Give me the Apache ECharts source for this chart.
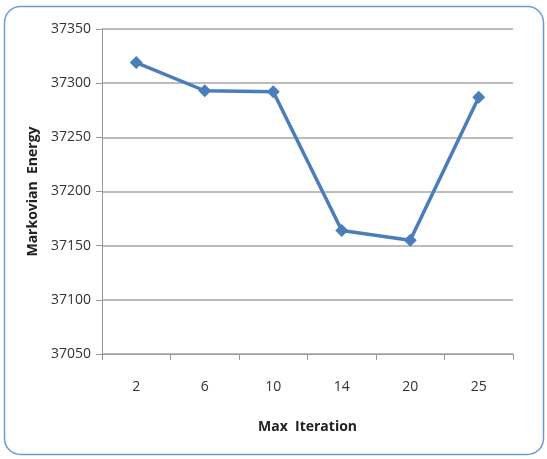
<!DOCTYPE html>
<html><head><meta charset="utf-8">
<script src="https://cdn.jsdelivr.net/npm/echarts@6/dist/echarts.min.js"></script>
<style>html,body{margin:0;padding:0;background:#fff}#c{width:547px;height:459px}</style>
</head><body><div id="c"></div>
<script>
const categories = ['2','6','10','14','20','25'];
const energy = [37319, 37293, 37292, 37164, 37155, 37287];
const yMin = 37050, yMax = 37350, yStep = 50;
const xTitle = 'Max  Iteration';
const yTitle = 'Markovian  Energy';

const font = '"Liberation Sans Narrow", "Open Sans", sans-serif';
const chart = echarts.init(document.getElementById('c'), null, {renderer:'canvas'});
chart.setOption({
  animation:false,
  backgroundColor:'#fff',
  graphic:[{type:'rect', shape:{x:4.5,y:6.5,width:539,height:448,r:16}, style:{fill:'none', stroke:'#6f9bd3', lineWidth:1.5}, z:-1}],
  grid:{left:102, right:34, top:29, bottom:105},
  xAxis:{type:'category', data:categories, boundaryGap:true,
    name:xTitle, nameLocation:'middle', nameGap:66,
    nameTextStyle:{fontFamily:font, fontSize:14, fontWeight:'bold', color:'#222'},
    axisLine:{lineStyle:{color:'#999', width:1}},
    axisTick:{show:true, alignWithLabel:false, length:6, lineStyle:{color:'#999'}},
    axisLabel:{fontFamily:font, fontSize:14, color:'#333', margin:26},
    splitLine:{show:false}},
  yAxis:{type:'value', min:yMin, max:yMax, interval:yStep,
    name:yTitle, nameLocation:'middle', nameGap:62, nameRotate:90,
    nameTextStyle:{fontFamily:font, fontSize:14, fontWeight:'bold', color:'#222'},
    axisLine:{show:true, lineStyle:{color:'#999', width:1}},
    axisTick:{show:true, length:6, lineStyle:{color:'#999'}},
    axisLabel:{fontFamily:font, fontSize:14, color:'#333', margin:11, formatter:v => String(v)},
    splitLine:{lineStyle:{color:'#a6a6a6', width:1.5}}},
  series:[{type:'line', data:energy, symbol:'diamond', symbolSize:13,
    lineStyle:{color:'#4a7ebb', width:3.5}, itemStyle:{color:'#4a7ebb'}}]
});
</script></body></html>
